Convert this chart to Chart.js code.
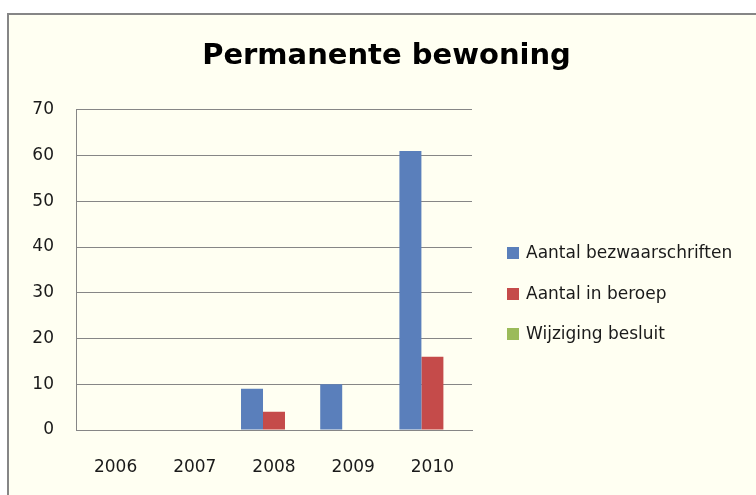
<!DOCTYPE html>
<html>
<head>
<meta charset="utf-8">
<style>
  html, body { margin: 0; padding: 0; background: #ffffff; }
  #wrap { position: relative; width: 756px; height: 495px; }
  canvas { display: block; }
</style>
<script src="https://cdn.jsdelivr.net/npm/chart.js@4/dist/chart.umd.min.js"></script>
</head>
<body>
<div id="wrap"><canvas id="c" width="756" height="495"></canvas></div>
<script>
const titleText = "Permanente bewoning";
const categories = ["2006", "2007", "2008", "2009", "2010"];
const seriesNames = ["Aantal bezwaarschriften", "Aantal in beroep", "Wijziging besluit"];
const bezwaarschriften = [0, 0, 9, 10, 61];
const inBeroep = [0, 0, 4, 0, 16];
const wijzigingBesluit = [0, 0, 0, 0, 0];
const yTicks = [0, 10, 20, 30, 40, 50, 60, 70];

const colors = ["#5A7FBB", "#C54B4A", "#9BBB59"];
const FONT = "'DejaVu Sans', sans-serif";
const TEXT = "#1a1a1a";

const frame = {
  id: "frame",
  beforeDraw(chart) {
    const ctx = chart.ctx;
    ctx.save();
    ctx.fillStyle = "#ffffff";
    ctx.fillRect(0, 0, chart.width, chart.height);
    ctx.fillStyle = "#FFFFF2";
    ctx.fillRect(8, 13, chart.width, chart.height);
    ctx.strokeStyle = "#868686";
    ctx.lineWidth = 2;
    ctx.beginPath();
    ctx.moveTo(8, chart.height + 5);
    ctx.lineTo(8, 14);
    ctx.lineTo(chart.width + 5, 14);
    ctx.stroke();
    ctx.restore();
  }
};

const customLegend = {
  id: "customLegend",
  afterDraw(chart) {
    const ctx = chart.ctx;
    ctx.save();
    ctx.font = "17px " + FONT;
    ctx.textBaseline = "middle";
    ctx.textAlign = "left";
    const x0 = 507, ys = [253, 294, 334];
    chart.data.datasets.forEach((ds, i) => {
      ctx.fillStyle = ds.backgroundColor;
      ctx.fillRect(x0, ys[i] - 6, 12, 12);
      ctx.fillStyle = TEXT;
      ctx.fillText(ds.label, x0 + 19, ys[i] + 1);
    });
    ctx.restore();
  }
};

new Chart(document.getElementById("c"), {
  type: "bar",
  data: {
    labels: categories,
    datasets: [
      { label: seriesNames[0], data: bezwaarschriften, backgroundColor: colors[0] },
      { label: seriesNames[1], data: inBeroep, backgroundColor: colors[1] },
      { label: seriesNames[2], data: wijzigingBesluit, backgroundColor: colors[2] }
    ]
  },
  options: {
    responsive: false,
    animation: false,
    devicePixelRatio: 1,
    layout: { padding: { left: 17, right: 0, top: 14, bottom: 0 } },
    datasets: { bar: { barPercentage: 1, categoryPercentage: 0.833 } },
    plugins: {
      legend: { display: false },
      tooltip: { enabled: false },
      title: {
        display: true,
        text: titleText,
        color: "#000000",
        font: { family: FONT, size: 29, weight: "bold" },
        padding: { top: 25, bottom: 36 }
      }
    },
    scales: {
      x: {
        grid: { display: false, drawTicks: false },
        border: { display: true, color: "#868686", width: 1 },
        ticks: { color: TEXT, font: { family: FONT, size: 17 }, padding: 27 },
        afterFit(s) { s.height = 65; }
      },
      y: {
        min: 0, max: 70,
        afterBuildTicks(s) { s.ticks = yTicks.map(v => ({ value: v })); },
        grid: { color: "#868686", drawTicks: false },
        border: { display: true, color: "#868686", width: 1 },
        ticks: { color: TEXT, font: { family: FONT, size: 17 }, padding: 22 },
        afterFit(s) { s.width = 59; }
      },
      legendSpace: {
        type: "linear",
        position: "right",
        display: true,
        grid: { display: false, drawTicks: false },
        border: { display: false },
        ticks: { display: false },
        afterFit(s) { s.width = 284; }
      }
    }
  },
  plugins: [frame, customLegend]
});
</script>
</body>
</html>
